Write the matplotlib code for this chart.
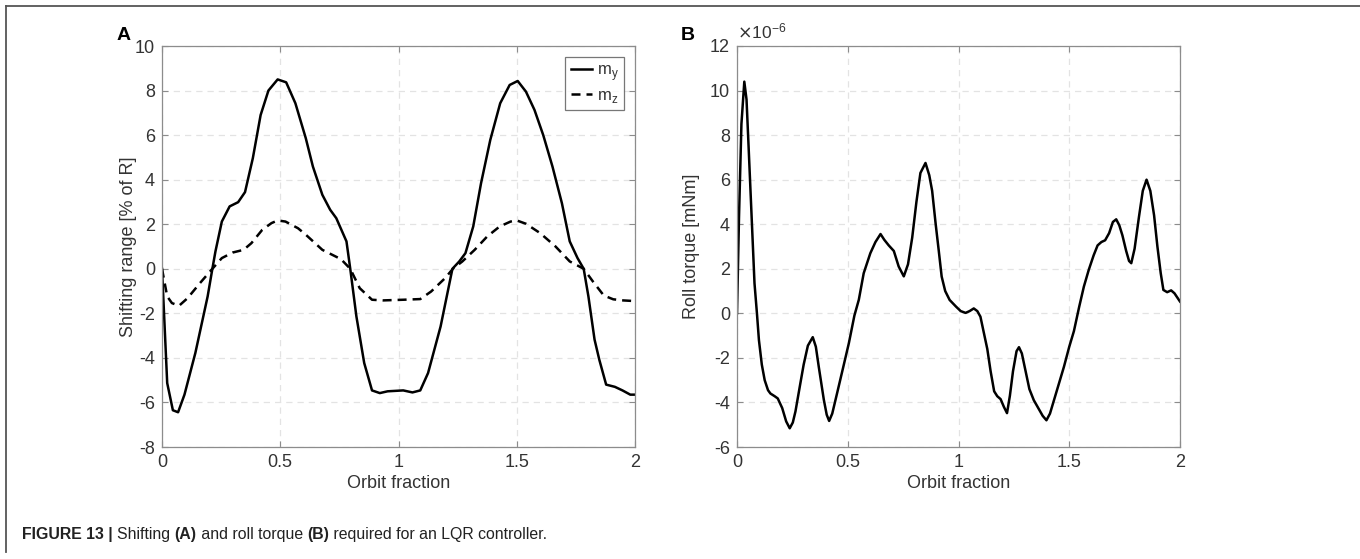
import matplotlib
matplotlib.use("Agg")
import matplotlib.pyplot as plt
from matplotlib.lines import Line2D
from matplotlib import font_manager

plt.rcParams['font.family'] = ['Liberation Sans', 'DejaVu Sans']

# ---------------- data ----------------
# Panel A: shifting range [% of R]
my_x = [0, 0.022, 0.046, 0.068, 0.095, 0.141, 0.193, 0.213, 0.226, 0.253, 0.286, 0.322,
        0.351, 0.384, 0.417, 0.45, 0.489, 0.525, 0.564, 0.608, 0.638, 0.678, 0.711, 0.737,
        0.78, 0.796, 0.822, 0.855, 0.888, 0.921, 0.954, 1.02, 1.059, 1.092, 1.125, 1.178,
        1.228, 1.257, 1.283, 1.316, 1.349, 1.388, 1.43, 1.47, 1.504, 1.539, 1.575, 1.612,
        1.651, 1.691, 1.724, 1.757, 1.783, 1.803, 1.829, 1.849, 1.878, 1.915, 1.947, 1.98, 2.0]
my_y = [0, -5.13, -6.35, -6.44, -5.65, -3.78, -1.24, 0, 0.78, 2.12, 2.8, 2.99,
        3.44, 4.96, 6.9, 8.0, 8.5, 8.37, 7.43, 5.86, 4.59, 3.32, 2.65, 2.27,
        1.23, 0, -2.14, -4.23, -5.46, -5.58, -5.5, -5.46, -5.55, -5.46, -4.68, -2.59,
        0, 0.33, 0.7, 1.9, 3.84, 5.78, 7.43, 8.25, 8.43, 7.95, 7.13, 6.0,
        4.59, 2.94, 1.23, 0.48, 0, -1.24, -3.18, -4.08, -5.2, -5.3, -5.46, -5.65, -5.65]

mz_x = [0, 0.022, 0.042, 0.072, 0.108, 0.16, 0.213, 0.253, 0.299, 0.345, 0.378, 0.424,
        0.463, 0.489, 0.522, 0.575, 0.609, 0.678, 0.757, 0.796, 0.836, 0.888, 0.934, 1.02,
        1.092, 1.138, 1.197, 1.23, 1.27, 1.322, 1.375, 1.428, 1.474, 1.5, 1.539, 1.599,
        1.664, 1.724, 1.783, 1.822, 1.868, 1.908, 1.95, 2.0]
mz_y = [0, -1.24, -1.54, -1.66, -1.32, -0.65, 0, 0.48, 0.73, 0.85, 1.15, 1.75,
        2.05, 2.17, 2.12, 1.82, 1.52, 0.85, 0.43, 0, -0.87, -1.39, -1.42, -1.39,
        -1.36, -1.02, -0.42, 0, 0.33, 0.85, 1.45, 1.9, 2.12, 2.17, 2.02, 1.6,
        1.0, 0.33, 0, -0.57, -1.2, -1.37, -1.42, -1.45]

# Panel B: roll torque [mNm] (x 1e-6)
tq_x = [0.0, 0.009, 0.02, 0.033, 0.043, 0.053, 0.066, 0.079, 0.09, 0.099, 0.112, 0.125,
        0.14, 0.151, 0.17, 0.184, 0.204, 0.222, 0.238, 0.252, 0.264, 0.285, 0.301, 0.32,
        0.342, 0.356, 0.369, 0.392, 0.405, 0.416, 0.43, 0.452, 0.48, 0.505, 0.53, 0.55,
        0.572, 0.602, 0.625, 0.648, 0.665, 0.685, 0.708, 0.73, 0.753, 0.772, 0.791, 0.81,
        0.828, 0.851, 0.868, 0.881, 0.897, 0.911, 0.924, 0.94, 0.96, 0.989, 1.01, 1.032,
        1.05, 1.069, 1.085, 1.099, 1.115, 1.13, 1.145, 1.161, 1.175, 1.19, 1.205, 1.219,
        1.232, 1.246, 1.262, 1.273, 1.286, 1.303, 1.32, 1.34, 1.36, 1.38, 1.397, 1.413,
        1.431, 1.455, 1.476, 1.5, 1.521, 1.545, 1.566, 1.588, 1.61, 1.628, 1.645, 1.662,
        1.68, 1.697, 1.712, 1.726, 1.74, 1.757, 1.77, 1.78, 1.795, 1.815, 1.832, 1.849,
        1.866, 1.883, 1.898, 1.913, 1.925, 1.942, 1.96, 1.975, 2.0]
tq_y = [0.0, 4.3, 8.5, 10.4, 9.6, 7.33, 4.34, 1.35, 0.0, -1.2, -2.3, -3.0,
        -3.45, -3.6, -3.72, -3.82, -4.25, -4.85, -5.16, -4.9, -4.4, -3.2, -2.3, -1.45,
        -1.07, -1.5, -2.39, -3.88, -4.55, -4.83, -4.5, -3.58, -2.4, -1.34, -0.1, 0.61,
        1.8, 2.7, 3.2, 3.56, 3.3, 3.05, 2.8, 2.1, 1.66, 2.2, 3.4, 5.0,
        6.3, 6.75, 6.2, 5.5, 4.0, 2.8, 1.65, 1.0, 0.6, 0.3, 0.1, 0.02,
        0.1, 0.22, 0.1, -0.15, -0.9, -1.6, -2.6, -3.5, -3.72, -3.85, -4.2, -4.48,
        -3.7, -2.6, -1.7, -1.52, -1.8, -2.6, -3.4, -3.9, -4.25, -4.6, -4.8, -4.5,
        -3.9, -3.1, -2.4, -1.5, -0.8, 0.3, 1.2, 1.95, 2.6, 3.05, 3.2, 3.28,
        3.6, 4.1, 4.22, 3.95, 3.5, 2.8, 2.35, 2.25, 2.9, 4.35, 5.5, 6.0,
        5.5, 4.4, 3.0, 1.8, 1.05, 0.95, 1.03, 0.9, 0.53]

x_ticks = [0, 0.5, 1, 1.5, 2]
x_ticklabels = ['0', '0.5', '1', '1.5', '2']
a_yticks = [-8, -6, -4, -2, 0, 2, 4, 6, 8, 10]
b_yticks = [-6, -4, -2, 0, 2, 4, 6, 8, 10, 12]

caption_parts = [("FIGURE 13 | ", 'bold'), ("Shifting ", 'normal'), ("(A)", 'bold'),
                 (" and roll torque ", 'normal'), ("(B)", 'bold'),
                 (" required for an LQR controller.", 'normal')]

# ---------------- figure ----------------
W, H = 1360, 559
fig = plt.figure(figsize=(W / 100, H / 100), dpi=100)

txt_col = '#333333'
spine_col = '#8c8c8c'
grid_col = '#e3e3e3'


def px_rect(x0, x1, y0, y1):
    return [x0 / W, 1 - y1 / H, (x1 - x0) / W, (y1 - y0) / H]


def style_ax(ax, yticks):
    ax.set_xlim(0, 2)
    ax.set_xticks(x_ticks)
    ax.set_xticklabels(x_ticklabels)
    ax.set_yticks(yticks)
    ax.set_ylim(yticks[0], yticks[-1])
    ax.set_yticklabels([str(v) for v in yticks])
    for s in ax.spines.values():
        s.set_color(spine_col)
        s.set_linewidth(0.9)
    ax.tick_params(direction='in', length=4, width=0.8, color=spine_col,
                   top=True, right=True, labelsize=13, labelcolor=txt_col, pad=5)
    ax.grid(True, color=grid_col, linestyle=(0, (5, 4)), linewidth=0.9)
    ax.set_axisbelow(True)
    ax.set_xlabel('Orbit fraction', fontsize=13, color=txt_col, labelpad=3)


axA = fig.add_axes(px_rect(162, 635, 46, 447))
axB = fig.add_axes(px_rect(737, 1180, 46, 447))
style_ax(axA, a_yticks)
style_ax(axB, b_yticks)

axA.plot(my_x, my_y, color='black', lw=1.8, label=r'm$_\mathregular{y}$')
axA.plot(mz_x, mz_y, color='black', lw=1.8, linestyle=(0, (3.6, 2.4)), label=r'm$_\mathregular{z}$')
axA.set_ylabel('Shifting range [% of R]', fontsize=13, color=txt_col)
axA.yaxis.set_label_coords(-0.053, 0.5)
leg = axA.legend(loc='upper right', fontsize=12, frameon=True, fancybox=False,
                 handlelength=1.3, handletextpad=0.25, borderaxespad=0.65,
                 borderpad=0.35, labelspacing=0.3)
leg.get_frame().set_edgecolor('#555555')
leg.get_frame().set_linewidth(0.9)
for t in leg.get_texts():
    t.set_color(txt_col)

axB.plot(tq_x, tq_y, color='black', lw=1.8)
axB.set_ylabel('Roll torque [mNm]', fontsize=13, color=txt_col)
axB.yaxis.set_label_coords(-0.084, 0.5)
axB.text(0.0, 1.012, r'$\times\mathregular{10^{-6}}$', transform=axB.transAxes,
         fontsize=12.5, color=txt_col, ha='left', va='bottom')

# panel letters
fig.text(117 / W, 1 - 40 / H, 'A', fontsize=14, fontweight='bold', color='black')
fig.text(681 / W, 1 - 40 / H, 'B', fontsize=14, fontweight='bold', color='black')

# outer frame lines
fig.add_artist(Line2D([6 / W, 1], [1 - 6 / H, 1 - 6 / H], transform=fig.transFigure,
                      color='#555555', lw=1.3))
fig.add_artist(Line2D([6 / W, 6 / W], [1 - 6 / H, 1 - 552 / H], transform=fig.transFigure,
                      color='#555555', lw=1.3))

# caption (fit to reference width)
avail = {f.name for f in font_manager.fontManager.ttflist}
cap_family = ['Liberation Sans Narrow'] if 'Liberation Sans Narrow' in avail else ['Liberation Sans']
fig.canvas.draw()
renderer = fig.canvas.get_renderer()


def draw_caption(size):
    arts = []
    x_cur = 22
    for text, weight in caption_parts:
        t = fig.text(x_cur / W, 1 - 539 / H, text, fontsize=size, fontweight=weight,
                     family=cap_family, color='#222222', ha='left', va='baseline')
        bb = t.get_window_extent(renderer=renderer)
        x_cur += bb.width
        arts.append(t)
    return arts, x_cur - 22


arts, width = draw_caption(12)
target = 526.0
new_size = 12 * target / width
new_size = min(max(new_size, 9), 14)
for a in arts:
    a.remove()
draw_caption(new_size)

fig.savefig('out.png', dpi=100)
